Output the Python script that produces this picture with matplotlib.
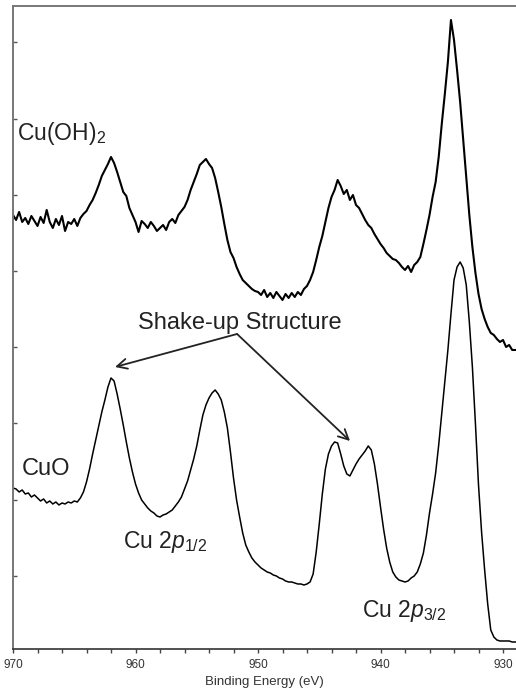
import matplotlib.pyplot as plt
from matplotlib.ticker import MultipleLocator

plt.rcParams['font.family'] = ['Liberation Sans', 'DejaVu Sans']
plt.rcParams['mathtext.fontset'] = 'custom'
plt.rcParams['mathtext.rm'] = 'Liberation Sans'
plt.rcParams['mathtext.it'] = 'Liberation Sans:italic'

# binding energy grid, 0.25 eV steps (eV)
energy = [
    970.00, 969.75, 969.50, 969.25, 969.00, 968.75, 968.50, 968.25,
    968.00, 967.75, 967.50, 967.25, 967.00, 966.75, 966.50, 966.25,
    966.00, 965.75, 965.50, 965.25, 965.00, 964.75, 964.50, 964.25,
    964.00, 963.75, 963.50, 963.25, 963.00, 962.75, 962.50, 962.25,
    962.00, 961.75, 961.50, 961.25, 961.00, 960.75, 960.50, 960.25,
    960.00, 959.75, 959.50, 959.25, 959.00, 958.75, 958.50, 958.25,
    958.00, 957.75, 957.50, 957.25, 957.00, 956.75, 956.50, 956.25,
    956.00, 955.75, 955.50, 955.25, 955.00, 954.75, 954.50, 954.25,
    954.00, 953.75, 953.50, 953.25, 953.00, 952.75, 952.50, 952.25,
    952.00, 951.75, 951.50, 951.25, 951.00, 950.75, 950.50, 950.25,
    950.00, 949.75, 949.50, 949.25, 949.00, 948.75, 948.50, 948.25,
    948.00, 947.75, 947.50, 947.25, 947.00, 946.75, 946.50, 946.25,
    946.00, 945.75, 945.50, 945.25, 945.00, 944.75, 944.50, 944.25,
    944.00, 943.75, 943.50, 943.25, 943.00, 942.75, 942.50, 942.25,
    942.00, 941.75, 941.50, 941.25, 941.00, 940.75, 940.50, 940.25,
    940.00, 939.75, 939.50, 939.25, 939.00, 938.75, 938.50, 938.25,
    938.00, 937.75, 937.50, 937.25, 937.00, 936.75, 936.50, 936.25,
    936.00, 935.75, 935.50, 935.25, 935.00, 934.75, 934.50, 934.25,
    934.00, 933.75, 933.50, 933.25, 933.00, 932.75, 932.50, 932.25,
    932.00, 931.75, 931.50, 931.25, 931.00, 930.75, 930.50, 930.25,
    930.00, 929.75, 929.50, 929.25, 929.00,
]

# Cu(OH)2 intensity (a.u.)
intensity_oh = [
    437, 432, 440, 430, 434, 428, 436, 431,
    426, 435, 429, 442, 430, 424, 433, 427,
    436, 421, 430, 428, 433, 426, 434, 438,
    441, 447, 452, 459, 467, 476, 482, 488,
    495, 489, 480, 470, 460, 456, 444, 437,
    430, 420, 431, 428, 424, 430, 426, 421,
    424, 427, 422, 430, 433, 429, 437, 441,
    445, 452, 462, 470, 478, 487, 490, 493,
    488, 484, 474, 460, 445, 428, 412, 400,
    394, 385, 378, 372, 369, 366, 363, 361,
    360, 357, 362, 355, 359, 354, 360, 356,
    352, 358, 354, 359, 355, 360, 357, 363,
    366, 372, 380, 392, 405, 416, 430, 444,
    455, 462, 472, 466, 458, 462, 452, 457,
    447, 444, 438, 432, 427, 424, 418, 413,
    408, 404, 399, 396, 393, 392, 389, 385,
    382, 386, 380, 387, 390, 395, 408, 422,
    437, 455, 470, 495, 528, 558, 590, 632,
    612, 582, 550, 512, 475, 437, 405, 379,
    358, 343, 333, 325, 319, 317, 313, 310,
    312, 305, 307, 302, 302,
]

# CuO intensity (a.u.)
intensity_cuo = [
    164, 163, 160, 162, 158, 159, 155, 157,
    154, 151, 153, 149, 151, 148, 150, 147,
    149, 148, 150, 149, 151, 150, 154, 160,
    170, 183, 198, 212, 226, 240, 252, 265,
    274, 271, 258, 243, 227, 210, 194, 180,
    168, 159, 152, 148, 144, 141, 139, 136,
    135, 137, 138, 140, 142, 146, 150, 155,
    163, 171, 182, 193, 206, 222, 237, 247,
    254, 259, 262, 258, 252, 240, 224, 200,
    174, 152, 135, 119, 107, 100, 94, 90,
    87, 84, 82, 80, 79, 77, 76, 74,
    73, 71, 70, 70, 69, 68, 68, 67,
    68, 70, 78, 100, 128, 158, 183, 198,
    206, 210, 209, 198, 186, 178, 176, 182,
    188, 193, 197, 201, 206, 202, 188, 168,
    145, 123, 104, 90, 80, 75, 72, 71,
    70, 71, 74, 76, 80, 88, 99, 117,
    139, 158, 179, 207, 239, 270, 302, 338,
    372, 385, 390, 384, 367, 330, 285, 228,
    167, 120, 82, 48, 22, 15, 12, 11,
    11, 11, 11, 10, 10,
]

fig = plt.figure(figsize=(5.16, 6.95), dpi=100)
ax = fig.add_axes([0.0252, 0.0662, 0.9748, 0.9252])

ax.plot(energy, intensity_oh, color='black', lw=1.5)
ax.plot(energy, intensity_cuo, color='black', lw=1.1)

ax.set_xlim(970, 928.94)
ax.set_ylim(3, 646)

ax.xaxis.set_major_locator(MultipleLocator(10))
ax.xaxis.set_minor_locator(MultipleLocator(2))
ax.yaxis.set_major_locator(MultipleLocator(76.2))
ax.set_yticklabels([])
ax.tick_params(axis='x', which='both', direction='out', length=3,
               width=1, color='#444444', labelsize=8.5, labelcolor='#333333', pad=4)
ax.tick_params(axis='y', which='both', direction='in', length=3,
               width=1, color='#555555')

for side in ['left', 'top']:
    ax.spines[side].set_color('#777777')
    ax.spines[side].set_linewidth(1.4)
ax.spines['bottom'].set_color('#333333')
ax.spines['bottom'].set_linewidth(1.2)
ax.spines['right'].set_visible(False)

ax.set_xlabel('Binding Energy (eV)', fontsize=9.5, color='#333333', labelpad=4)

ax.text(969.67, 512, 'Cu(OH)$_2$', fontsize=16.5, va='baseline', color='#222222')
ax.text(969.27, 177, 'CuO', fontsize=17, va='baseline', color='#222222')
ax.text(959.80, 323, 'Shake-up Structure', fontsize=17, va='baseline', color='#222222')
ax.text(961.02, 104, 'Cu 2$\\mathit{p}_{1/2}$', fontsize=16.5, va='baseline', color='#222222')
ax.text(941.51, 35, 'Cu 2$\\mathit{p}_{3/2}$', fontsize=16.5, va='baseline', color='#222222')

arrow = dict(arrowstyle='->', lw=1.3, color='#222222', shrinkA=0, shrinkB=0,
             mutation_scale=18)
ax.annotate('', xy=(961.67, 285), xytext=(951.71, 318), arrowprops=arrow)
ax.annotate('', xy=(942.49, 211), xytext=(951.71, 318), arrowprops=arrow)

fig.savefig('out.png', dpi=100)
